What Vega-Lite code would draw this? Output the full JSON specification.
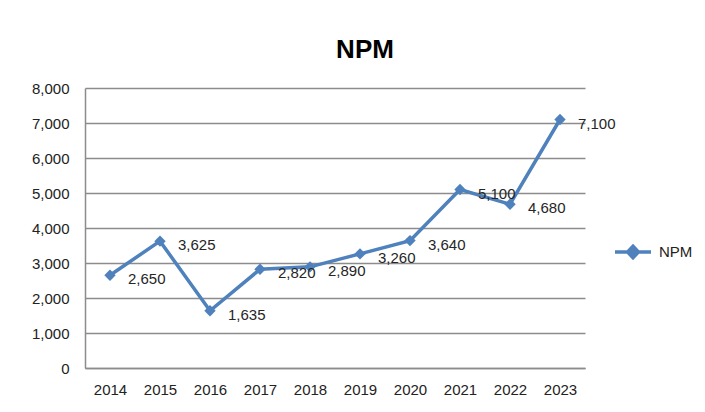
{
  "$schema": "https://vega.github.io/schema/vega-lite/v6.json",
  "width": 500,
  "height": 280,
  "autosize": "none",
  "padding": {"left": 85, "top": 88, "right": 120, "bottom": 44},
  "background": "white",
  "title": {"text": "NPM", "fontSize": 26, "fontWeight": "bold", "font": "Liberation Sans", "color": "#000000", "anchor": "middle", "dx": 30, "offset": 18},
  "config": {"view": {"stroke": null}, "font": "Liberation Sans"},
  "data": {"values": [
    {"year": "2014", "value": 2650, "series": "NPM"},
    {"year": "2015", "value": 3625, "series": "NPM"},
    {"year": "2016", "value": 1635, "series": "NPM"},
    {"year": "2017", "value": 2820, "series": "NPM"},
    {"year": "2018", "value": 2890, "series": "NPM"},
    {"year": "2019", "value": 3260, "series": "NPM"},
    {"year": "2020", "value": 3640, "series": "NPM"},
    {"year": "2021", "value": 5100, "series": "NPM"},
    {"year": "2022", "value": 4680, "series": "NPM"},
    {"year": "2023", "value": 7100, "series": "NPM"}
  ]},
  "encoding": {
    "x": {"field": "year", "type": "ordinal", "scale": {"type": "point", "padding": 0.5},
      "axis": {"title": null, "labelAngle": 0, "ticks": false, "labelPadding": 14, "labelFontSize": 15, "labelColor": "#222222", "domainColor": "#8c8c8c", "domainWidth": 1.5, "grid": false}},
    "y": {"field": "value", "type": "quantitative", "scale": {"domain": [0, 8000], "nice": false},
      "axis": {"title": null, "values": [0,1000,2000,3000,4000,5000,6000,7000,8000], "format": ",.0f", "ticks": false, "labelPadding": 16, "labelFontSize": 15, "labelColor": "#222222", "domainColor": "#8c8c8c", "domainWidth": 1.5, "gridColor": "#8c8c8c", "gridWidth": 1.5}}
  },
  "layer": [
    {"mark": {"type": "line", "color": "#4F81BD", "strokeWidth": 3.5}},
    {"mark": {"type": "point", "shape": "diamond", "filled": true, "size": 130, "opacity": 1},
      "encoding": {"color": {"field": "series", "type": "nominal", "scale": {"range": ["#4F81BD"]},
        "legend": {"title": null, "orient": "none", "legendX": 528, "legendY": 144, "symbolType": "M-1,0H1M0,-0.32L0.3,0L0,0.32L-0.3,0Z", "symbolSize": 1296, "symbolStrokeWidth": 3.5, "symbolStrokeColor": "#4F81BD", "symbolFillColor": "#4F81BD", "labelFontSize": 15, "labelColor": "#222222", "labelOffset": 6}}}},
    {"mark": {"type": "text", "align": "left", "baseline": "middle", "dx": 18, "dy": 4, "fontSize": 15, "color": "#262626"},
      "encoding": {"text": {"field": "value", "type": "quantitative", "format": ",.0f"}}}
  ]
}
